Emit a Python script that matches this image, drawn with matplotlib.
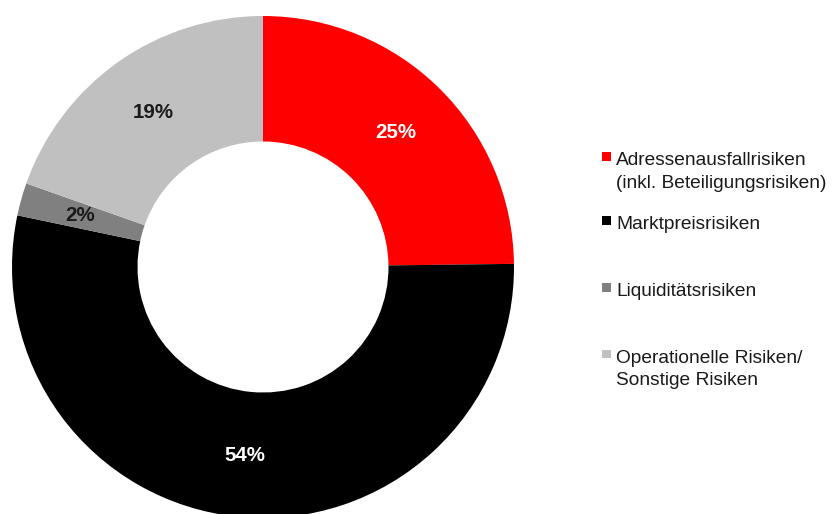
import numpy as np
import matplotlib.pyplot as plt
from matplotlib.patches import Rectangle

plt.rcParams['font.family'] = ['Liberation Sans', 'DejaVu Sans']

legend_lines = [['Adressenausfallrisiken', '(inkl. Beteiligungsrisiken)'],
                ['Marktpreisrisiken'],
                ['Liquiditätsrisiken'],
                ['Operationelle Risiken/', 'Sonstige Risiken']]
shares = [24.8, 53.5, 2.1, 19.6]
pct_labels = ['25%', '54%', '2%', '19%']
colors = ['#FF0000', '#000000', '#808080', '#C0C0C0']
label_colors = ['white', 'white', '#1a1a1a', '#1a1a1a']

W, H = 833, 514
fig = plt.figure(figsize=(W / 100, H / 100), dpi=100)

# donut axes: square box around center (263, 267), radius ~251 px
cx, cy, r = 263, 267, 251
ax = fig.add_axes([(cx - r) / W, (H - cy - r) / H, 2 * r / W, 2 * r / H])

ax.pie(shares, colors=colors, startangle=90, counterclock=False,
       radius=1.0, wedgeprops=dict(width=0.5, linewidth=0))

# percent labels in the middle of the ring
total = sum(shares)
start = 90.0
for val, txt, col in zip(shares, pct_labels, label_colors):
    mid = start - val / total * 360 / 2
    start -= val / total * 360
    rr = 0.755
    ax.text(rr * np.cos(np.radians(mid)), rr * np.sin(np.radians(mid)),
            txt, ha='center', va='center', fontsize=14.8,
            fontweight='bold', color=col)
ax.set_xlim(-1, 1)
ax.set_ylim(-1, 1)

# legend drawn by hand (uneven spacing like the original)
first_baselines = [165, 229.3, 296, 362.7]
for lines, col, yb in zip(legend_lines, colors, first_baselines):
    fig.patches.append(Rectangle((602 / W, 1 - (yb - 4.5) / H), 8.5 / W, 8.5 / H,
                                 transform=fig.transFigure, color=col,
                                 linewidth=0))
    for i, line in enumerate(lines):
        fig.text(616 / W, 1 - (yb + i * 22.5) / H, line, ha='left',
                 va='baseline', fontsize=13.8, color='#1a1a1a')

fig.savefig('out.png', dpi=100)
